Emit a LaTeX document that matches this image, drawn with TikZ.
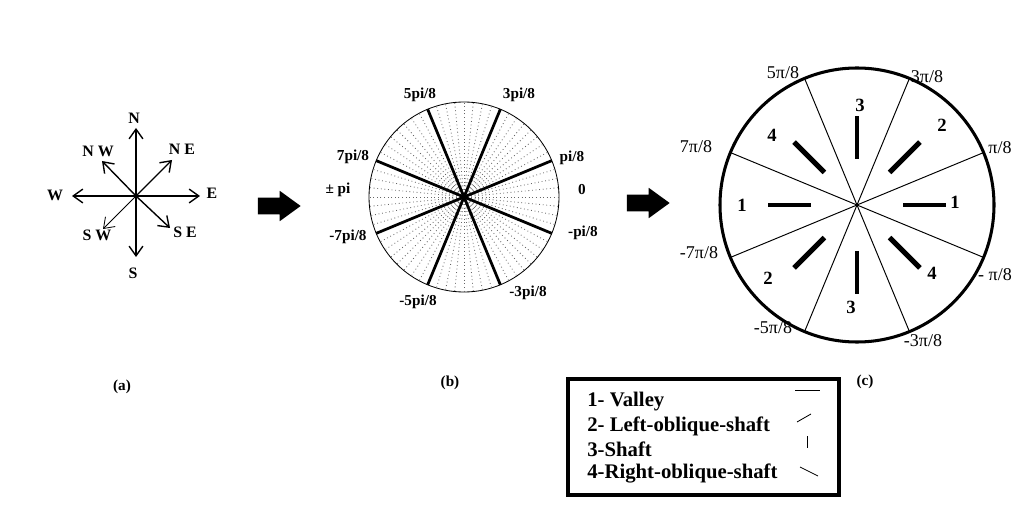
\documentclass[tikz,border=0pt]{standalone}
\usepackage{fontspec}
\setmainfont{Liberation Serif}
\usetikzlibrary{positioning,arrows.meta,shapes.arrows}

\tikzset{
  dirlabel/.style={font=\fontsize{11.5}{13}\selectfont\bfseries, inner sep=0pt},
  anglabel/.style={font=\fontsize{11}{13}\selectfont\bfseries, inner sep=0pt},
  radlabel/.style={font=\fontsize{13}{15}\selectfont, inner sep=0pt},
  numlabel/.style={font=\fontsize{13.5}{15}\selectfont\bfseries, inner sep=0pt},
  caption/.style={font=\fontsize{11}{13}\selectfont\bfseries, inner sep=0pt},
  legtext/.style={font=\fontsize{15}{17}\selectfont\bfseries, inner sep=0pt, anchor=west},
  bigarrow/.style={single arrow, fill=black, inner xsep=0pt, inner ysep=5.8pt, minimum height=31pt, single arrow head extend=5pt, single arrow tip angle=72},
  compass/.style={line width=1pt, -{Straight Barb[length=7pt,width=10pt]}},
  bar/.style={line width=3.6pt},
}

\begin{document}
\begin{tikzpicture}[x=0.0254cm, y=0.0254cm]
\useasboundingbox (0,0) rectangle (1024,505);

% (a) compass
\def\x{136}
\def\y{309}

\coordinate (ao) at (\x + 0, \y + 0);
\coordinate (aN) at (\x + 0, \y + 68);
\coordinate (aE) at (\x + 64, \y + 0);
\coordinate (aW) at (\x + -64, \y + 0);
\coordinate (aS) at (\x + 0, \y + -61);
\coordinate (aNE) at (\x + 36, \y + 36);
\coordinate (aNW) at (\x + -34, \y + 35);
\coordinate (aSW) at (\x + -33, \y + -33);
\coordinate (aSE) at (\x + 34, \y + -32);

\node[dirlabel] (lN) at (\x + -2, \y + 78) {N};
\node[dirlabel] (lE) at (\x + 76, \y + 3) {E};
\node[dirlabel] (lW) at (\x + -81, \y + 1) {W};
\node[dirlabel] (lS) at (\x + -3, \y + -77) {S};
\node[dirlabel] (lNE) at (\x + 46, \y + 47) {N E};
\node[dirlabel] (lNW) at (\x + -38, \y + 45) {N W};
\node[dirlabel] (lSW) at (\x + -39, \y + -39) {S W};
\node[dirlabel] (lSE) at (\x + 49, \y + -36) {S E};

\draw[compass] (ao) -- (aN);
\draw[compass] (ao) -- (aE);
\draw[compass] (ao) -- (aW);
\draw[compass] (ao) -- (aS);
\draw[compass] (ao) -- (aNE);
\draw[compass] (ao) -- (aNW);
\draw[compass, line width=0.6pt] (ao) -- (aSW);
\draw[compass] (ao) -- (aSE);

\node[caption] (capa) at (122, 118) {(a)};

\node[bigarrow] (arrowab) at (273.5, 299) {};

% (b) quantised angles
\def\x{464}
\def\y{308}

\coordinate (bo) at (\x + 0, \y + 0);
\draw[line width=0.6pt] (bo) circle (95);
\foreach \a in {0,5.625,...,354.375}
  \draw[black!60, dotted, line width=0.6pt] (bo) -- ++(\a:95);
\foreach \a in {22.5,67.5,...,337.5}
  \draw[line width=2pt] (bo) -- ++(\a:95);

\node[anglabel] (b5) at (\x + -44, \y + 102) {5pi/8};
\node[anglabel] (b3) at (\x + 55, \y + 102) {3pi/8};
\node[anglabel] (b1) at (\x + 108, \y + 39) {pi/8};
\node[anglabel] (b0) at (\x + 118, \y + 7) {0};
\node[anglabel] (bm1) at (\x + 119, \y + -36) {-pi/8};
\node[anglabel] (bm3) at (\x + 64, \y + -96) {-3pi/8};
\node[anglabel] (bm5) at (\x + -46, \y + -105) {-5pi/8};
\node[anglabel] (bm7) at (\x + -116, \y + -40) {-7pi/8};
\node[anglabel] (bpi) at (\x + -126, \y + 7) {± pi};
\node[anglabel] (b7) at (\x + -111, \y + 40) {7pi/8};

\node[caption] (capb) at (450, 122) {(b)};

\node[bigarrow] (arrowbc) at (642.5, 302) {};

% (c) sectors
\def\x{857}
\def\y{300}

\coordinate (co) at (\x + 0, \y + 0);
\draw[line width=2.2pt] (co) circle (137);
\foreach \a in {22.5,67.5,...,337.5}
  \draw[line width=0.7pt] (co) -- ++(\a:137);
\foreach \a in {0,45,...,315}
  \draw[bar] (co) ++(\a:46) -- ++(\a:43);

\node[numlabel] (n1r) at (\x + 98, \y + 3) {1};
\node[numlabel] (n2r) at (\x + 85, \y + 80) {2};
\node[numlabel] (n3t) at (\x + 3, \y + 100) {3};
\node[numlabel] (n4l) at (\x + -85, \y + 70) {4};
\node[numlabel] (n1l) at (\x + -115, \y + 0) {1};
\node[numlabel] (n2l) at (\x + -89, \y + -73) {2};
\node[numlabel] (n3b) at (\x + -6, \y + -102) {3};
\node[numlabel] (n4r) at (\x + 75, \y + -68) {4};

\node[radlabel] (c5) at (\x + -74, \y + 132) {5π/8};
\node[radlabel] (c3) at (\x + 70, \y + 128) {3π/8};
\node[radlabel] (c7) at (\x + -161, \y + 58) {7π/8};
\node[radlabel] (c1) at (\x + 143, \y + 57) {π/8};
\node[radlabel] (cm7) at (\x + -158, \y + -48) {-7π/8};
\node[radlabel] (cm1) at (\x + 138, \y + -70) {- π/8};
\node[radlabel] (cm5) at (\x + -84, \y + -123) {-5π/8};
\node[radlabel] (cm3) at (\x + 66, \y + -136) {-3π/8};

\node[caption] (capc) at (865, 123) {(c)};

% legend
\draw[line width=2.4pt] (568, 10) rectangle (839, 126);
\node[legtext] (leg1) at (587, 103) {1- Valley};
\node[legtext] (leg2) at (587, 79) {2- Left-oblique-shaft};
\node[legtext] (leg3) at (587, 56) {3-Shaft};
\node[legtext] (leg4) at (587, 32) {4-Right-oblique-shaft};

\draw[line width=0.6pt] (795, 115) -- (820, 115);
\draw[line width=0.6pt] (797, 83) -- (811, 91);
\draw[line width=0.6pt] (807, 69) -- (807, 57);
\draw[line width=0.6pt] (800, 38) -- (818, 29);

\end{tikzpicture}
\end{document}
